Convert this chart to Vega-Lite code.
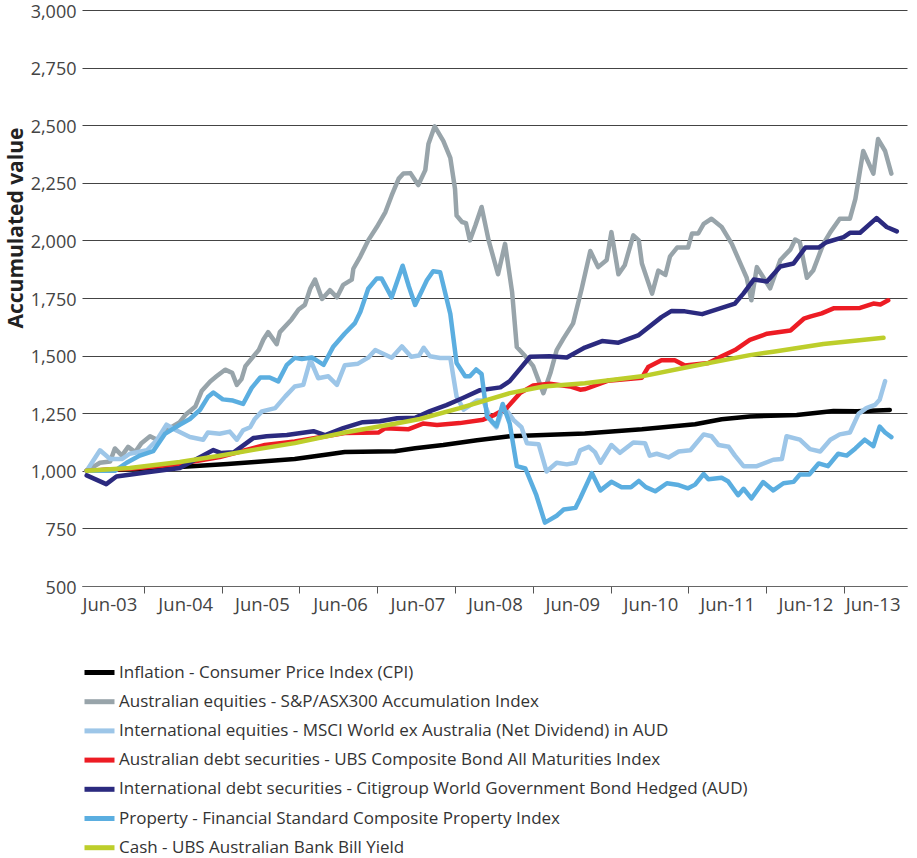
{
"$schema": "https://vega.github.io/schema/vega-lite/v6.json",
"width": 825, "height": 576,
"autosize": {"type": "none"},
"padding": {"left": 82, "top": 10, "right": 10, "bottom": 272},
"config": {"view": {"stroke": null}, "font": "Open Sans"},
"data": {"values": [
{"s":"cpi","t":2003.40,"v":1000},{"s":"cpi","t":2004.00,"v":1008},{"s":"cpi","t":2004.59,"v":1017},{"s":"cpi","t":2005.20,"v":1030},{"s":"cpi","t":2005.55,"v":1038},{"s":"cpi","t":2006.06,"v":1051},{"s":"cpi","t":2006.50,"v":1072},{"s":"cpi","t":2006.70,"v":1082},{"s":"cpi","t":2007.34,"v":1085},{"s":"cpi","t":2007.60,"v":1098},{"s":"cpi","t":2007.96,"v":1112},{"s":"cpi","t":2008.39,"v":1133},{"s":"cpi","t":2008.81,"v":1150},{"s":"cpi","t":2009.24,"v":1155},{"s":"cpi","t":2009.77,"v":1162},{"s":"cpi","t":2010.50,"v":1180},{"s":"cpi","t":2011.18,"v":1202},{"s":"cpi","t":2011.52,"v":1224},{"s":"cpi","t":2011.88,"v":1236},{"s":"cpi","t":2012.48,"v":1242},{"s":"cpi","t":2012.95,"v":1260},{"s":"cpi","t":2013.25,"v":1258},{"s":"cpi","t":2013.67,"v":1264},
{"s":"aeq","t":2003.40,"v":1000},{"s":"aeq","t":2003.57,"v":1035},{"s":"aeq","t":2003.70,"v":1040},{"s":"aeq","t":2003.76,"v":1097},{"s":"aeq","t":2003.85,"v":1066},{"s":"aeq","t":2003.93,"v":1104},{"s":"aeq","t":2004.02,"v":1081},{"s":"aeq","t":2004.10,"v":1120},{"s":"aeq","t":2004.21,"v":1150},{"s":"aeq","t":2004.30,"v":1135},{"s":"aeq","t":2004.44,"v":1181},{"s":"aeq","t":2004.59,"v":1211},{"s":"aeq","t":2004.66,"v":1242},{"s":"aeq","t":2004.79,"v":1279},{"s":"aeq","t":2004.87,"v":1346},{"s":"aeq","t":2004.98,"v":1388},{"s":"aeq","t":2005.06,"v":1410},{"s":"aeq","t":2005.17,"v":1439},{"s":"aeq","t":2005.26,"v":1425},{"s":"aeq","t":2005.32,"v":1373},{"s":"aeq","t":2005.38,"v":1398},{"s":"aeq","t":2005.43,"v":1454},{"s":"aeq","t":2005.55,"v":1504},{"s":"aeq","t":2005.60,"v":1524},{"s":"aeq","t":2005.66,"v":1570},{"s":"aeq","t":2005.72,"v":1602},{"s":"aeq","t":2005.83,"v":1550},{"s":"aeq","t":2005.87,"v":1602},{"s":"aeq","t":2006.02,"v":1657},{"s":"aeq","t":2006.11,"v":1700},{"s":"aeq","t":2006.19,"v":1720},{"s":"aeq","t":2006.26,"v":1792},{"s":"aeq","t":2006.32,"v":1830},{"s":"aeq","t":2006.41,"v":1746},{"s":"aeq","t":2006.51,"v":1784},{"s":"aeq","t":2006.60,"v":1753},{"s":"aeq","t":2006.68,"v":1807},{"s":"aeq","t":2006.79,"v":1830},{"s":"aeq","t":2006.81,"v":1877},{"s":"aeq","t":2006.90,"v":1931},{"s":"aeq","t":2007.00,"v":2000},{"s":"aeq","t":2007.11,"v":2058},{"s":"aeq","t":2007.22,"v":2123},{"s":"aeq","t":2007.30,"v":2195},{"s":"aeq","t":2007.39,"v":2268},{"s":"aeq","t":2007.45,"v":2290},{"s":"aeq","t":2007.54,"v":2292},{"s":"aeq","t":2007.64,"v":2240},{"s":"aeq","t":2007.73,"v":2305},{"s":"aeq","t":2007.77,"v":2418},{"s":"aeq","t":2007.85,"v":2495},{"s":"aeq","t":2007.96,"v":2432},{"s":"aeq","t":2008.05,"v":2358},{"s":"aeq","t":2008.11,"v":2224},{"s":"aeq","t":2008.13,"v":2108},{"s":"aeq","t":2008.20,"v":2080},{"s":"aeq","t":2008.25,"v":2075},{"s":"aeq","t":2008.30,"v":2000},{"s":"aeq","t":2008.37,"v":2065},{"s":"aeq","t":2008.45,"v":2145},{"s":"aeq","t":2008.54,"v":2000},{"s":"aeq","t":2008.66,"v":1853},{"s":"aeq","t":2008.75,"v":1985},{"s":"aeq","t":2008.84,"v":1776},{"s":"aeq","t":2008.90,"v":1537},{"s":"aeq","t":2009.01,"v":1497},{"s":"aeq","t":2009.11,"v":1454},{"s":"aeq","t":2009.24,"v":1337},{"s":"aeq","t":2009.33,"v":1424},{"s":"aeq","t":2009.41,"v":1524},{"s":"aeq","t":2009.50,"v":1576},{"s":"aeq","t":2009.62,"v":1640},{"s":"aeq","t":2009.73,"v":1790},{"s":"aeq","t":2009.84,"v":1954},{"s":"aeq","t":2009.94,"v":1884},{"s":"aeq","t":2010.05,"v":1915},{"s":"aeq","t":2010.11,"v":2036},{"s":"aeq","t":2010.20,"v":1853},{"s":"aeq","t":2010.28,"v":1892},{"s":"aeq","t":2010.39,"v":2022},{"s":"aeq","t":2010.46,"v":2000},{"s":"aeq","t":2010.50,"v":1900},{"s":"aeq","t":2010.63,"v":1769},{"s":"aeq","t":2010.71,"v":1869},{"s":"aeq","t":2010.80,"v":1850},{"s":"aeq","t":2010.86,"v":1931},{"s":"aeq","t":2010.95,"v":1969},{"s":"aeq","t":2011.09,"v":1969},{"s":"aeq","t":2011.14,"v":2030},{"s":"aeq","t":2011.22,"v":2030},{"s":"aeq","t":2011.29,"v":2072},{"s":"aeq","t":2011.39,"v":2094},{"s":"aeq","t":2011.52,"v":2058},{"s":"aeq","t":2011.65,"v":1985},{"s":"aeq","t":2011.78,"v":1884},{"s":"aeq","t":2011.84,"v":1838},{"s":"aeq","t":2011.90,"v":1740},{"s":"aeq","t":2011.97,"v":1884},{"s":"aeq","t":2012.14,"v":1792},{"s":"aeq","t":2012.27,"v":1915},{"s":"aeq","t":2012.40,"v":1961},{"s":"aeq","t":2012.46,"v":2004},{"s":"aeq","t":2012.52,"v":1992},{"s":"aeq","t":2012.61,"v":1838},{"s":"aeq","t":2012.69,"v":1869},{"s":"aeq","t":2012.82,"v":1985},{"s":"aeq","t":2012.91,"v":2036},{"s":"aeq","t":2013.03,"v":2094},{"s":"aeq","t":2013.16,"v":2094},{"s":"aeq","t":2013.23,"v":2180},{"s":"aeq","t":2013.33,"v":2388},{"s":"aeq","t":2013.46,"v":2290},{"s":"aeq","t":2013.52,"v":2440},{"s":"aeq","t":2013.61,"v":2388},{"s":"aeq","t":2013.69,"v":2290},
{"s":"ieq","t":2003.40,"v":1000},{"s":"ieq","t":2003.57,"v":1089},{"s":"ieq","t":2003.70,"v":1051},{"s":"ieq","t":2003.85,"v":1051},{"s":"ieq","t":2003.95,"v":1074},{"s":"ieq","t":2004.17,"v":1089},{"s":"ieq","t":2004.30,"v":1135},{"s":"ieq","t":2004.42,"v":1200},{"s":"ieq","t":2004.55,"v":1175},{"s":"ieq","t":2004.72,"v":1147},{"s":"ieq","t":2004.89,"v":1135},{"s":"ieq","t":2004.95,"v":1166},{"s":"ieq","t":2005.10,"v":1161},{"s":"ieq","t":2005.23,"v":1170},{"s":"ieq","t":2005.32,"v":1135},{"s":"ieq","t":2005.40,"v":1176},{"s":"ieq","t":2005.49,"v":1189},{"s":"ieq","t":2005.55,"v":1225},{"s":"ieq","t":2005.64,"v":1258},{"s":"ieq","t":2005.81,"v":1272},{"s":"ieq","t":2005.94,"v":1323},{"s":"ieq","t":2006.06,"v":1366},{"s":"ieq","t":2006.17,"v":1373},{"s":"ieq","t":2006.26,"v":1482},{"s":"ieq","t":2006.36,"v":1402},{"s":"ieq","t":2006.49,"v":1410},{"s":"ieq","t":2006.60,"v":1373},{"s":"ieq","t":2006.70,"v":1458},{"s":"ieq","t":2006.87,"v":1465},{"s":"ieq","t":2007.00,"v":1491},{"s":"ieq","t":2007.09,"v":1524},{"s":"ieq","t":2007.30,"v":1491},{"s":"ieq","t":2007.43,"v":1540},{"s":"ieq","t":2007.55,"v":1495},{"s":"ieq","t":2007.65,"v":1500},{"s":"ieq","t":2007.71,"v":1534},{"s":"ieq","t":2007.79,"v":1497},{"s":"ieq","t":2007.92,"v":1490},{"s":"ieq","t":2008.05,"v":1490},{"s":"ieq","t":2008.13,"v":1323},{"s":"ieq","t":2008.22,"v":1265},{"s":"ieq","t":2008.39,"v":1305},{"s":"ieq","t":2008.47,"v":1305},{"s":"ieq","t":2008.58,"v":1212},{"s":"ieq","t":2008.64,"v":1189},{"s":"ieq","t":2008.73,"v":1280},{"s":"ieq","t":2008.86,"v":1220},{"s":"ieq","t":2008.96,"v":1189},{"s":"ieq","t":2009.03,"v":1120},{"s":"ieq","t":2009.18,"v":1115},{"s":"ieq","t":2009.28,"v":997},{"s":"ieq","t":2009.41,"v":1035},{"s":"ieq","t":2009.54,"v":1028},{"s":"ieq","t":2009.65,"v":1035},{"s":"ieq","t":2009.71,"v":1089},{"s":"ieq","t":2009.82,"v":1104},{"s":"ieq","t":2009.90,"v":1081},{"s":"ieq","t":2009.97,"v":1035},{"s":"ieq","t":2010.11,"v":1112},{"s":"ieq","t":2010.22,"v":1078},{"s":"ieq","t":2010.39,"v":1123},{"s":"ieq","t":2010.54,"v":1120},{"s":"ieq","t":2010.60,"v":1066},{"s":"ieq","t":2010.69,"v":1074},{"s":"ieq","t":2010.84,"v":1058},{"s":"ieq","t":2010.97,"v":1084},{"s":"ieq","t":2011.12,"v":1089},{"s":"ieq","t":2011.29,"v":1158},{"s":"ieq","t":2011.39,"v":1150},{"s":"ieq","t":2011.48,"v":1112},{"s":"ieq","t":2011.61,"v":1104},{"s":"ieq","t":2011.69,"v":1066},{"s":"ieq","t":2011.80,"v":1020},{"s":"ieq","t":2011.97,"v":1020},{"s":"ieq","t":2012.18,"v":1048},{"s":"ieq","t":2012.29,"v":1051},{"s":"ieq","t":2012.35,"v":1150},{"s":"ieq","t":2012.52,"v":1135},{"s":"ieq","t":2012.65,"v":1094},{"s":"ieq","t":2012.78,"v":1084},{"s":"ieq","t":2012.91,"v":1135},{"s":"ieq","t":2013.03,"v":1158},{"s":"ieq","t":2013.16,"v":1166},{"s":"ieq","t":2013.27,"v":1247},{"s":"ieq","t":2013.37,"v":1272},{"s":"ieq","t":2013.48,"v":1286},{"s":"ieq","t":2013.54,"v":1308},{"s":"ieq","t":2013.61,"v":1389},
{"s":"adb","t":2003.40,"v":1000},{"s":"adb","t":2004.00,"v":1010},{"s":"adb","t":2004.60,"v":1030},{"s":"adb","t":2005.10,"v":1060},{"s":"adb","t":2005.55,"v":1100},{"s":"adb","t":2005.68,"v":1112},{"s":"adb","t":2006.06,"v":1127},{"s":"adb","t":2006.70,"v":1164},{"s":"adb","t":2007.13,"v":1166},{"s":"adb","t":2007.22,"v":1185},{"s":"adb","t":2007.51,"v":1180},{"s":"adb","t":2007.70,"v":1205},{"s":"adb","t":2007.88,"v":1199},{"s":"adb","t":2008.17,"v":1207},{"s":"adb","t":2008.47,"v":1222},{"s":"adb","t":2008.60,"v":1240},{"s":"adb","t":2008.77,"v":1272},{"s":"adb","t":2008.94,"v":1337},{"s":"adb","t":2009.11,"v":1370},{"s":"adb","t":2009.32,"v":1378},{"s":"adb","t":2009.58,"v":1366},{"s":"adb","t":2009.71,"v":1352},{"s":"adb","t":2009.78,"v":1355},{"s":"adb","t":2010.07,"v":1391},{"s":"adb","t":2010.50,"v":1404},{"s":"adb","t":2010.58,"v":1450},{"s":"adb","t":2010.75,"v":1480},{"s":"adb","t":2010.92,"v":1480},{"s":"adb","t":2011.05,"v":1457},{"s":"adb","t":2011.35,"v":1468},{"s":"adb","t":2011.52,"v":1497},{"s":"adb","t":2011.69,"v":1524},{"s":"adb","t":2011.88,"v":1568},{"s":"adb","t":2012.10,"v":1595},{"s":"adb","t":2012.40,"v":1609},{"s":"adb","t":2012.57,"v":1660},{"s":"adb","t":2012.66,"v":1670},{"s":"adb","t":2012.80,"v":1683},{"s":"adb","t":2012.95,"v":1705},{"s":"adb","t":2013.29,"v":1707},{"s":"adb","t":2013.46,"v":1726},{"s":"adb","t":2013.55,"v":1722},{"s":"adb","t":2013.65,"v":1740},
{"s":"idb","t":2003.40,"v":980},{"s":"idb","t":2003.65,"v":942},{"s":"idb","t":2003.78,"v":975},{"s":"idb","t":2004.20,"v":995},{"s":"idb","t":2004.59,"v":1012},{"s":"idb","t":2005.02,"v":1090},{"s":"idb","t":2005.12,"v":1077},{"s":"idb","t":2005.28,"v":1080},{"s":"idb","t":2005.53,"v":1142},{"s":"idb","t":2005.70,"v":1150},{"s":"idb","t":2005.96,"v":1155},{"s":"idb","t":2006.30,"v":1172},{"s":"idb","t":2006.45,"v":1155},{"s":"idb","t":2006.68,"v":1185},{"s":"idb","t":2006.93,"v":1211},{"s":"idb","t":2007.15,"v":1215},{"s":"idb","t":2007.37,"v":1228},{"s":"idb","t":2007.60,"v":1230},{"s":"idb","t":2007.79,"v":1259},{"s":"idb","t":2008.00,"v":1285},{"s":"idb","t":2008.21,"v":1316},{"s":"idb","t":2008.43,"v":1350},{"s":"idb","t":2008.69,"v":1362},{"s":"idb","t":2008.81,"v":1389},{"s":"idb","t":2009.07,"v":1495},{"s":"idb","t":2009.32,"v":1497},{"s":"idb","t":2009.54,"v":1492},{"s":"idb","t":2009.77,"v":1535},{"s":"idb","t":2009.99,"v":1563},{"s":"idb","t":2010.20,"v":1556},{"s":"idb","t":2010.46,"v":1589},{"s":"idb","t":2010.75,"v":1667},{"s":"idb","t":2010.88,"v":1694},{"s":"idb","t":2011.05,"v":1692},{"s":"idb","t":2011.27,"v":1680},{"s":"idb","t":2011.52,"v":1707},{"s":"idb","t":2011.69,"v":1726},{"s":"idb","t":2011.80,"v":1770},{"s":"idb","t":2011.93,"v":1830},{"s":"idb","t":2012.10,"v":1822},{"s":"idb","t":2012.27,"v":1887},{"s":"idb","t":2012.44,"v":1900},{"s":"idb","t":2012.59,"v":1969},{"s":"idb","t":2012.76,"v":1969},{"s":"idb","t":2012.86,"v":1992},{"s":"idb","t":2013.08,"v":2014},{"s":"idb","t":2013.16,"v":2033},{"s":"idb","t":2013.29,"v":2033},{"s":"idb","t":2013.50,"v":2097},{"s":"idb","t":2013.63,"v":2058},{"s":"idb","t":2013.76,"v":2039},
{"s":"prop","t":2003.40,"v":1000},{"s":"prop","t":2003.76,"v":1000},{"s":"prop","t":2003.91,"v":1035},{"s":"prop","t":2004.08,"v":1066},{"s":"prop","t":2004.25,"v":1085},{"s":"prop","t":2004.40,"v":1160},{"s":"prop","t":2004.59,"v":1200},{"s":"prop","t":2004.72,"v":1225},{"s":"prop","t":2004.85,"v":1265},{"s":"prop","t":2004.95,"v":1320},{"s":"prop","t":2005.02,"v":1340},{"s":"prop","t":2005.14,"v":1310},{"s":"prop","t":2005.27,"v":1305},{"s":"prop","t":2005.40,"v":1290},{"s":"prop","t":2005.51,"v":1360},{"s":"prop","t":2005.62,"v":1405},{"s":"prop","t":2005.74,"v":1405},{"s":"prop","t":2005.85,"v":1388},{"s":"prop","t":2005.96,"v":1460},{"s":"prop","t":2006.06,"v":1490},{"s":"prop","t":2006.15,"v":1485},{"s":"prop","t":2006.28,"v":1492},{"s":"prop","t":2006.43,"v":1460},{"s":"prop","t":2006.55,"v":1537},{"s":"prop","t":2006.70,"v":1596},{"s":"prop","t":2006.83,"v":1641},{"s":"prop","t":2006.90,"v":1690},{"s":"prop","t":2007.00,"v":1790},{"s":"prop","t":2007.11,"v":1835},{"s":"prop","t":2007.17,"v":1835},{"s":"prop","t":2007.30,"v":1753},{"s":"prop","t":2007.44,"v":1890},{"s":"prop","t":2007.52,"v":1800},{"s":"prop","t":2007.60,"v":1720},{"s":"prop","t":2007.75,"v":1827},{"s":"prop","t":2007.83,"v":1866},{"s":"prop","t":2007.92,"v":1862},{"s":"prop","t":2008.05,"v":1681},{"s":"prop","t":2008.13,"v":1468},{"s":"prop","t":2008.24,"v":1410},{"s":"prop","t":2008.30,"v":1410},{"s":"prop","t":2008.38,"v":1440},{"s":"prop","t":2008.45,"v":1420},{"s":"prop","t":2008.52,"v":1235},{"s":"prop","t":2008.64,"v":1195},{"s":"prop","t":2008.72,"v":1290},{"s":"prop","t":2008.81,"v":1204},{"s":"prop","t":2008.90,"v":1020},{"s":"prop","t":2009.01,"v":1010},{"s":"prop","t":2009.15,"v":894},{"s":"prop","t":2009.26,"v":775},{"s":"prop","t":2009.41,"v":805},{"s":"prop","t":2009.50,"v":832},{"s":"prop","t":2009.65,"v":839},{"s":"prop","t":2009.71,"v":880},{"s":"prop","t":2009.86,"v":990},{"s":"prop","t":2009.97,"v":915},{"s":"prop","t":2010.11,"v":952},{"s":"prop","t":2010.24,"v":929},{"s":"prop","t":2010.36,"v":929},{"s":"prop","t":2010.46,"v":956},{"s":"prop","t":2010.55,"v":929},{"s":"prop","t":2010.67,"v":911},{"s":"prop","t":2010.82,"v":946},{"s":"prop","t":2010.97,"v":938},{"s":"prop","t":2011.09,"v":924},{"s":"prop","t":2011.18,"v":940},{"s":"prop","t":2011.29,"v":986},{"s":"prop","t":2011.35,"v":963},{"s":"prop","t":2011.52,"v":970},{"s":"prop","t":2011.60,"v":955},{"s":"prop","t":2011.73,"v":894},{"s":"prop","t":2011.80,"v":922},{"s":"prop","t":2011.90,"v":880},{"s":"prop","t":2012.05,"v":951},{"s":"prop","t":2012.18,"v":915},{"s":"prop","t":2012.31,"v":946},{"s":"prop","t":2012.44,"v":952},{"s":"prop","t":2012.52,"v":984},{"s":"prop","t":2012.64,"v":984},{"s":"prop","t":2012.76,"v":1032},{"s":"prop","t":2012.88,"v":1020},{"s":"prop","t":2013.01,"v":1074},{"s":"prop","t":2013.12,"v":1066},{"s":"prop","t":2013.23,"v":1097},{"s":"prop","t":2013.35,"v":1135},{"s":"prop","t":2013.46,"v":1107},{"s":"prop","t":2013.54,"v":1192},{"s":"prop","t":2013.61,"v":1166},{"s":"prop","t":2013.69,"v":1146},
{"s":"cash","t":2003.40,"v":1000},{"s":"cash","t":2003.95,"v":1012},{"s":"cash","t":2004.59,"v":1038},{"s":"cash","t":2005.10,"v":1065},{"s":"cash","t":2005.55,"v":1092},{"s":"cash","t":2006.06,"v":1120},{"s":"cash","t":2006.70,"v":1166},{"s":"cash","t":2007.34,"v":1204},{"s":"cash","t":2007.66,"v":1225},{"s":"cash","t":2008.17,"v":1272},{"s":"cash","t":2008.81,"v":1337},{"s":"cash","t":2009.24,"v":1366},{"s":"cash","t":2009.77,"v":1380},{"s":"cash","t":2010.50,"v":1410},{"s":"cash","t":2011.14,"v":1454},{"s":"cash","t":2011.88,"v":1502},{"s":"cash","t":2012.18,"v":1517},{"s":"cash","t":2012.82,"v":1550},{"s":"cash","t":2013.59,"v":1577}
]},
"mark": {"type": "line", "strokeWidth": 4.5, "strokeJoin": "round", "strokeCap": "round", "clip": true},
"encoding": {
  "x": {"field": "t", "type": "quantitative",
    "scale": {"domain": [2003.34, 2013.89], "nice": false, "zero": false},
    "axis": {"title": null, "grid": false,
      "values": [2003.69, 2004.13, 2004.66, 2005.125, 2005.64, 2006.12, 2006.64, 2007.115, 2007.63, 2008.11, 2008.62, 2009.105, 2009.61, 2010.10, 2010.61, 2011.095, 2011.59, 2012.09, 2012.59, 2013.085, 2013.45],
      "labelExpr": "datum.value % 1 < 0.3 ? '' : 'Jun-' + (floor(datum.value) < 2010 ? '0' : '') + (floor(datum.value) - 2000)",
      "tickOpacity": {"condition": {"test": "datum.value % 1 > 0.3", "value": 0}, "value": 1},
      "domainColor": "#666", "domainWidth": 1.2, "tickColor": "#555", "tickSize": 7, "tickWidth": 1,
      "labelFontSize": 18.5, "labelColor": "#444", "labelPadding": 2,
      "labelFlush": false, "labelOverlap": false, "labelBound": false}},
  "y": {"field": "v", "type": "quantitative",
    "scale": {"domain": [500, 3000], "nice": false, "zero": false},
    "axis": {"values": [500, 750, 1000, 1250, 1500, 1750, 2000, 2250, 2500, 2750, 3000], "format": ",.0f",
      "title": "Accumulated value", "titleFontSize": 21, "titleFontWeight": "bold", "titleColor": "#222",
      "titleX": -66, "titleY": 318, "titleAngle": 270, "titleAlign": "left", "titleBaseline": "middle",
      "domain": false, "ticks": false, "tickSize": 0, "grid": true, "gridColor": "#444", "gridWidth": 1,
      "labelFontSize": 18, "labelColor": "#444", "labelPadding": 6, "labelOffset": 2}},
  "color": {"field": "s", "type": "nominal",
    "scale": {"domain": ["cpi", "aeq", "ieq", "adb", "idb", "prop", "cash"],
      "range": ["#000000", "#98A4AA", "#9DC6E8", "#ED1C24", "#2B2A7F", "#5BAEE0", "#BDCE2B"]},
    "legend": {"orient": "none", "legendX": 0, "legendY": 645, "direction": "vertical", "title": null,
      "padding": 0, "symbolType": "stroke", "symbolSize": 900, "symbolStrokeWidth": 5,
      "labelFontSize": 17, "labelColor": "#333", "labelLimit": 900, "labelOffset": 2, "rowPadding": 1.2,
      "labelExpr": "datum.label == 'cpi' ? 'Inflation - Consumer Price Index (CPI)' : datum.label == 'aeq' ? 'Australian equities - S&P/ASX300 Accumulation Index' : datum.label == 'ieq' ? 'International equities - MSCI World ex Australia (Net Dividend) in AUD' : datum.label == 'adb' ? 'Australian debt securities - UBS Composite Bond All Maturities Index' : datum.label == 'idb' ? 'International debt securities - Citigroup World Government Bond Hedged (AUD)' : datum.label == 'prop' ? 'Property - Financial Standard Composite Property Index' : 'Cash - UBS Australian Bank Bill Yield'"}},
  "order": {"field": "t", "type": "quantitative"}
}
}
